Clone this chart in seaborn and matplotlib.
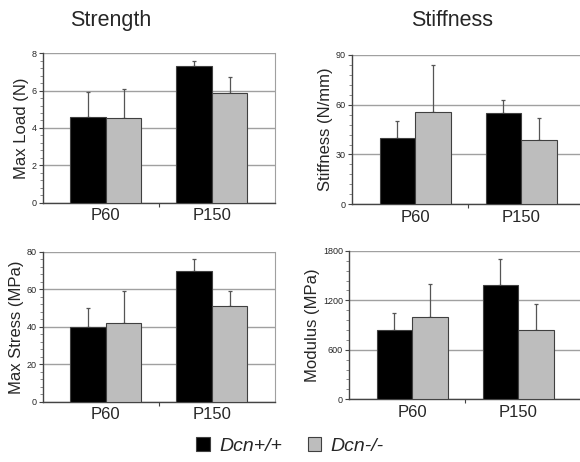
import numpy as np
import pandas as pd
import matplotlib
matplotlib.use("Agg")
import matplotlib.pyplot as plt
import seaborn as sns
from matplotlib.ticker import AutoMinorLocator, FixedLocator
from matplotlib.patches import Patch

ages = ["P60", "P150"]
genotypes = ["Dcn+/+", "Dcn-/-"]

# mean values, [P60, P150] per genotype
load_wt = [4.6, 7.3]
load_ko = [4.55, 5.85]
load_wt_err = [1.3, 0.3]
load_ko_err = [1.55, 0.85]

stiff_wt = [40, 55]
stiff_ko = [55.5, 38.5]
stiff_wt_err = [10, 8]
stiff_ko_err = [28.5, 13.5]

stress_wt = [40, 70]
stress_ko = [42, 51]
stress_wt_err = [10, 6]
stress_ko_err = [17, 8]

mod_wt = [840, 1390]
mod_ko = [1000, 840]
mod_wt_err = [210, 310]
mod_ko_err = [400, 310]

panels = [
    ("Max Load (N)", load_wt, load_ko, load_wt_err, load_ko_err, 8, 2),
    ("Stiffness (N/mm)", stiff_wt, stiff_ko, stiff_wt_err, stiff_ko_err, 90, 30),
    ("Max Stress (MPa)", stress_wt, stress_ko, stress_wt_err, stress_ko_err, 80, 20),
    ("Modulus (MPa)", mod_wt, mod_ko, mod_wt_err, mod_ko_err, 1800, 600),
]

sns.set_style("white")
plt.rcParams["font.family"] = ["Liberation Sans", "DejaVu Sans"]

fig = plt.figure(figsize=(5.8, 4.62), dpi=100)
rects = [
    [0.074, 0.561, 0.400, 0.324],
    [0.607, 0.558, 0.400, 0.323],
    [0.074, 0.130, 0.400, 0.325],
    [0.602, 0.136, 0.400, 0.321],
]
colors = ["black", "#bdbdbd"]

for rect, (ylabel, wt, ko, wt_err, ko_err, ymax, step) in zip(rects, panels):
    ax = fig.add_axes(rect)
    df = pd.DataFrame({
        "age": ages * 2,
        "genotype": [genotypes[0]] * 2 + [genotypes[1]] * 2,
        "value": wt + ko,
        "err": wt_err + ko_err,
    })
    sns.barplot(data=df, x="age", y="value", hue="genotype", order=ages,
                hue_order=genotypes, palette=colors, width=0.67, gap=0,
                edgecolor="#404040", linewidth=0.8, errorbar=None,
                legend=False, ax=ax, zorder=3)
    # upper-only error bars, matched to the drawn bars
    errs = wt_err + ko_err
    for p, e in zip(ax.patches, errs):
        xc = p.get_x() + p.get_width() / 2
        ax.errorbar(xc, p.get_height(), yerr=[[0], [e]], fmt="none",
                    ecolor="#555555", elinewidth=0.9, capsize=1.5,
                    capthick=0.9, zorder=2)
    ax.set_xlim(-0.594, 1.594)
    ax.set_ylim(0, ymax)
    ax.set_yticks(np.arange(0, ymax + step / 2, step))
    ax.yaxis.set_minor_locator(AutoMinorLocator(5))
    ax.xaxis.set_minor_locator(FixedLocator([0.5]))
    ax.grid(axis="y", color="#a0a0a0", linewidth=1.0, zorder=0)
    ax.set_axisbelow(True)
    ax.set_xlabel("")
    ax.set_ylabel(ylabel, fontsize=12, labelpad=2)
    ax.tick_params(axis="y", which="major", labelsize=6.5, length=3,
                   width=0.8, left=True, color="#444444", pad=1.5)
    ax.tick_params(axis="y", which="minor", length=2, width=0.6,
                   left=True, color="#777777")
    ax.tick_params(axis="x", which="major", labelsize=12, length=0, pad=4)
    ax.tick_params(axis="x", which="minor", length=3, width=0.8,
                   bottom=True, color="#444444")
    for side in ["left", "bottom"]:
        ax.spines[side].set_color("#444444")
        ax.spines[side].set_linewidth(1.0)
    ax.spines["top"].set_visible(False)
    ax.spines["right"].set_color("#a0a0a0")
    ax.spines["right"].set_linewidth(0.8)

fig.text(0.19, 0.955, "Strength", fontsize=15.5, ha="center", va="center")
fig.text(0.78, 0.955, "Stiffness", fontsize=15.5, ha="center", va="center")

handles = [Patch(facecolor=c, edgecolor="#404040", linewidth=0.8) for c in colors]
leg = fig.legend(handles, genotypes, loc="center", bbox_to_anchor=(0.5, 0.035),
                 ncol=2, frameon=False, handlelength=0.7, handleheight=0.7,
                 handletextpad=0.5, columnspacing=1.3,
                 prop={"size": 14, "style": "italic"})

fig.savefig("out.png", dpi=100)
